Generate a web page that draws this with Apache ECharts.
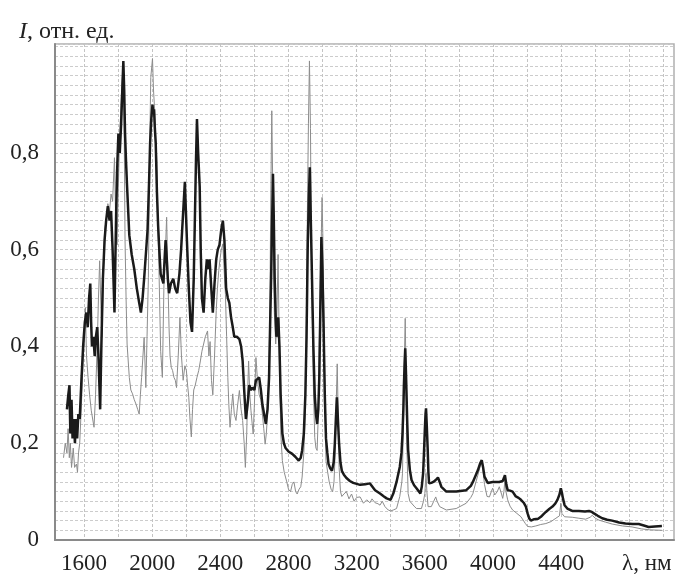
<!DOCTYPE html>
<html>
<head>
<meta charset="utf-8">
<script src="https://cdn.jsdelivr.net/npm/echarts@6/dist/echarts.min.js"></script>
<style>
  html, body { margin: 0; padding: 0; background: #fff; }
  #chart { width: 681px; height: 576px; }
</style>
</head>
<body>
<div id="chart"></div>
<script>
// подписи осей
const xLabelValues = [1600, 2000, 2400, 2800, 3200, 3600, 4000, 4400];
const xGridValues = [1600, 1800, 2000, 2200, 2400, 2600, 2800, 3000, 3200, 3400, 3600, 3800, 4000, 4200, 4400, 4600, 4800, 5000];
const yLabelValues = [0, 0.2, 0.4, 0.6, 0.8];

// жирная чёрная кривая
const blackX = [1500,1508,1515,1520,1527,1533,1540,1547,1553,1560,1567,1575,1585,1595,1605,1614,1622,1630,1637,1642,1647,1655,1663,1670,1678,1686,1695,1702,1711,1721,1730,1740,1750,1759,1768,1779,1789,1796,1802,1810,1818,1825,1831,1836,1841,1847,1853,1866,1880,1895,1910,1924,1934,1944,1953,1963,1973,1982,1988,1995,2002,2007,2011,2016,2021,2028,2035,2042,2050,2058,2066,2073,2079,2086,2092,2099,2110,2124,2135,2147,2160,2170,2176,2184,2192,2198,2205,2215,2225,2234,2244,2250,2257,2263,2270,2279,2285,2292,2302,2312,2321,2330,2337,2347,2356,2366,2376,2385,2395,2405,2415,2424,2434,2444,2453,2463,2473,2482,2497,2512,2522,2531,2540,2550,2560,2570,2580,2589,2600,2609,2620,2628,2638,2647,2657,2667,2677,2686,2692,2698,2704,2709,2714,2719,2724,2729,2735,2740,2747,2754,2764,2773,2783,2800,2822,2840,2860,2872,2880,2890,2899,2906,2913,2919,2925,2931,2938,2946,2954,2961,2968,2975,2981,2987,2993,2999,3006,3013,3020,3028,3035,3045,3055,3065,3072,3078,3084,3090,3097,3105,3113,3125,3140,3160,3180,3200,3220,3250,3278,3308,3337,3360,3376,3399,3415,3434,3453,3463,3469,3474,3477,3481,3485,3489,3492,3497,3502,3512,3522,3537,3551,3574,3582,3590,3595,3600,3604,3607,3611,3617,3621,3625,3638,3650,3664,3677,3687,3697,3726,3784,3843,3870,3882,3900,3911,3924,3934,3942,3950,3969,3998,4037,4057,4064,4070,4078,4086,4100,4115,4134,4150,4164,4180,4193,4203,4212,4222,4232,4242,4251,4265,4281,4295,4310,4330,4349,4365,4378,4390,4398,4404,4411,4420,4436,4465,4504,4540,4563,4580,4592,4615,4641,4670,4699,4740,4777,4820,4855,4885,4913,4950,4991];
const blackY = [0.27,0.30,0.32,0.22,0.29,0.21,0.25,0.20,0.25,0.21,0.26,0.25,0.33,0.40,0.45,0.47,0.44,0.50,0.53,0.45,0.40,0.42,0.38,0.42,0.44,0.37,0.27,0.40,0.54,0.62,0.66,0.69,0.66,0.68,0.60,0.47,0.68,0.78,0.84,0.80,0.86,0.93,0.99,0.93,0.84,0.78,0.73,0.63,0.59,0.56,0.52,0.49,0.47,0.50,0.54,0.59,0.64,0.74,0.82,0.87,0.90,0.88,0.89,0.85,0.82,0.72,0.65,0.60,0.55,0.54,0.53,0.58,0.62,0.58,0.54,0.51,0.53,0.54,0.52,0.51,0.55,0.60,0.64,0.69,0.74,0.68,0.61,0.52,0.45,0.43,0.54,0.65,0.78,0.87,0.80,0.73,0.60,0.50,0.47,0.54,0.58,0.56,0.58,0.52,0.47,0.53,0.58,0.60,0.61,0.64,0.66,0.62,0.52,0.50,0.49,0.46,0.44,0.42,0.42,0.415,0.40,0.37,0.31,0.25,0.28,0.32,0.31,0.315,0.31,0.33,0.33,0.336,0.31,0.28,0.26,0.24,0.27,0.336,0.44,0.54,0.66,0.757,0.66,0.54,0.47,0.42,0.44,0.46,0.40,0.30,0.22,0.20,0.19,0.183,0.178,0.172,0.164,0.17,0.185,0.22,0.30,0.42,0.61,0.70,0.77,0.66,0.54,0.40,0.30,0.26,0.24,0.27,0.34,0.48,0.626,0.56,0.44,0.30,0.21,0.18,0.157,0.148,0.143,0.16,0.20,0.25,0.295,0.25,0.198,0.16,0.143,0.135,0.128,0.122,0.118,0.116,0.114,0.115,0.117,0.103,0.096,0.09,0.086,0.083,0.096,0.12,0.151,0.18,0.22,0.27,0.317,0.36,0.396,0.35,0.31,0.24,0.186,0.145,0.124,0.113,0.107,0.096,0.11,0.138,0.18,0.227,0.26,0.272,0.24,0.186,0.14,0.117,0.118,0.12,0.124,0.129,0.12,0.11,0.10,0.10,0.103,0.112,0.12,0.135,0.144,0.158,0.165,0.15,0.131,0.118,0.12,0.12,0.122,0.128,0.134,0.115,0.103,0.102,0.10,0.09,0.087,0.083,0.077,0.069,0.055,0.045,0.04,0.038,0.043,0.045,0.044,0.048,0.053,0.058,0.064,0.069,0.075,0.083,0.094,0.107,0.098,0.085,0.072,0.065,0.06,0.06,0.059,0.06,0.058,0.055,0.05,0.045,0.042,0.04,0.036,0.034,0.033,0.033,0.03,0.027,0.028,0.029];

// тонкая серая кривая
const grayX = [1480,1490,1500,1507,1514,1520,1527,1537,1545,1556,1562,1568,1575,1585,1595,1602,1608,1615,1624,1633,1643,1651,1659,1668,1678,1685,1692,1698,1705,1712,1721,1730,1740,1750,1759,1768,1779,1786,1794,1801,1808,1815,1822,1831,1836,1841,1847,1853,1866,1875,1885,1895,1905,1915,1924,1931,1938,1946,1953,1963,1970,1978,1985,1992,2002,2008,2015,2021,2027,2034,2041,2050,2060,2070,2078,2085,2092,2099,2105,2112,2120,2128,2136,2143,2153,2163,2172,2182,2192,2201,2208,2215,2222,2230,2237,2244,2253,2263,2273,2283,2292,2302,2312,2325,2333,2340,2348,2356,2366,2376,2383,2391,2398,2405,2415,2422,2430,2437,2444,2450,2457,2465,2473,2482,2492,2502,2512,2522,2531,2540,2547,2555,2560,2566,2573,2580,2587,2593,2600,2609,2618,2628,2638,2647,2655,2663,2670,2677,2684,2690,2696,2702,2707,2711,2717,2725,2731,2739,2744,2748,2755,2764,2775,2790,2800,2812,2822,2832,2842,2851,2862,2872,2880,2890,2899,2905,2911,2917,2923,2929,2933,2938,2946,2954,2961,2968,2975,2981,2988,2997,3002,3008,3014,3020,3030,3039,3050,3059,3067,3074,3080,3086,3092,3097,3105,3113,3125,3140,3155,3170,3185,3200,3220,3240,3259,3278,3290,3308,3325,3337,3350,3366,3385,3399,3415,3434,3453,3465,3469,3474,3479,3485,3490,3494,3502,3512,3522,3537,3551,3580,3592,3600,3607,3612,3619,3638,3652,3664,3672,3687,3726,3784,3843,3870,3882,3900,3911,3924,3934,3942,3950,3965,3979,3990,3998,4010,4017,4025,4037,4050,4057,4064,4070,4076,4086,4100,4115,4140,4164,4190,4203,4212,4225,4251,4280,4310,4340,4369,4390,4398,4404,4420,4465,4504,4543,4570,4582,4600,4622,4660,4699,4760,4816,4870,4920,4991];
const grayY = [0.17,0.20,0.18,0.23,0.17,0.20,0.15,0.19,0.15,0.157,0.14,0.18,0.20,0.28,0.37,0.42,0.48,0.38,0.336,0.30,0.267,0.25,0.233,0.30,0.405,0.50,0.577,0.50,0.42,0.52,0.64,0.66,0.695,0.68,0.715,0.70,0.79,0.66,0.61,0.72,0.82,0.88,0.94,0.984,0.85,0.62,0.50,0.405,0.336,0.31,0.302,0.29,0.281,0.27,0.26,0.30,0.336,0.38,0.419,0.315,0.42,0.543,0.80,0.956,0.995,0.93,0.887,0.83,0.79,0.65,0.543,0.39,0.336,0.543,0.60,0.667,0.55,0.44,0.38,0.357,0.35,0.336,0.33,0.315,0.38,0.46,0.38,0.33,0.36,0.35,0.32,0.295,0.25,0.213,0.27,0.31,0.32,0.336,0.35,0.37,0.39,0.405,0.42,0.432,0.38,0.41,0.33,0.30,0.38,0.474,0.52,0.557,0.58,0.598,0.612,0.56,0.508,0.42,0.336,0.28,0.233,0.27,0.302,0.26,0.247,0.28,0.309,0.27,0.247,0.20,0.15,0.22,0.30,0.37,0.30,0.267,0.24,0.219,0.28,0.377,0.33,0.30,0.29,0.26,0.23,0.198,0.22,0.26,0.33,0.45,0.70,0.887,0.75,0.60,0.47,0.405,0.45,0.59,0.45,0.34,0.22,0.164,0.14,0.12,0.105,0.10,0.115,0.12,0.10,0.095,0.105,0.11,0.13,0.18,0.267,0.45,0.68,0.86,0.99,0.85,0.65,0.50,0.32,0.212,0.19,0.185,0.26,0.405,0.55,0.708,0.62,0.45,0.28,0.164,0.14,0.12,0.105,0.10,0.12,0.18,0.28,0.364,0.25,0.15,0.10,0.09,0.095,0.10,0.085,0.095,0.08,0.088,0.089,0.076,0.083,0.077,0.085,0.077,0.075,0.072,0.08,0.069,0.062,0.06,0.062,0.065,0.09,0.12,0.138,0.25,0.358,0.458,0.33,0.20,0.096,0.08,0.076,0.07,0.065,0.065,0.08,0.096,0.138,0.10,0.069,0.069,0.08,0.089,0.08,0.069,0.062,0.065,0.076,0.088,0.096,0.12,0.134,0.151,0.165,0.14,0.115,0.09,0.089,0.10,0.107,0.093,0.089,0.10,0.11,0.095,0.086,0.10,0.124,0.10,0.083,0.07,0.062,0.055,0.048,0.034,0.028,0.025,0.027,0.029,0.032,0.034,0.038,0.045,0.05,0.076,0.055,0.048,0.047,0.045,0.043,0.047,0.051,0.045,0.041,0.037,0.033,0.029,0.027,0.023,0.021,0.02];

const serif = "Liberation Serif";

const option = {
  backgroundColor: "#fff",
  animation: false,
  title: {
    text: "{i|I}, отн. ед.",
    left: 14,
    top: 15,
    textStyle: {
      fontFamily: serif,
      fontSize: 24,
      fontWeight: "normal",
      color: "#222",
      rich: {
        i: { fontFamily: serif, fontSize: 24, fontStyle: "italic", color: "#222" }
      }
    }
  },
  graphic: [
    {
      type: "text",
      left: 622,
      top: 552,
      style: { text: "λ, нм", font: "23px 'Liberation Serif'", fill: "#222" }
    }
  ],
  grid: {
    left: 55,
    top: 44,
    right: 7,
    bottom: 36,
    show: true,
    borderColor: "#b0b0b0",
    borderWidth: 1.5
  },
  xAxis: {
    type: "value",
    min: 1430,
    max: 5062,
    axisLine: { show: true, lineStyle: { color: "#8a8a8a", width: 2 } },
    axisTick: { show: false, customValues: xGridValues },
    axisLabel: {
      customValues: xLabelValues,
      margin: 12,
      fontFamily: serif,
      fontSize: 23,
      color: "#222",
      formatter: (v) => String(v)
    },
    splitLine: {
      show: true,
      lineStyle: { color: "#c4c4c4", type: [3, 2], width: 1 }
    }
  },
  yAxis: {
    type: "value",
    min: 0,
    max: 1.025,
    interval: 0.02,
    axisLine: { show: true, lineStyle: { color: "#8a8a8a", width: 2 } },
    axisTick: { show: false },
    axisLabel: {
      customValues: yLabelValues,
      margin: 16,
      fontFamily: serif,
      fontSize: 23,
      color: "#222",
      formatter: (v) => String(+v.toFixed(1)).replace(".", ",")
    },
    splitLine: {
      show: true,
      lineStyle: { color: "#cccccc", type: [3, 2], width: 1 }
    }
  },
  series: [
    {
      name: "gray",
      type: "line",
      showSymbol: false,
      lineStyle: { color: "#8c8c8c", width: 1 },
      data: grayX.map((x, i) => [x, grayY[i]])
    },
    {
      name: "black",
      type: "line",
      showSymbol: false,
      lineStyle: { color: "#1a1a1a", width: 2.5 },
      data: blackX.map((x, i) => [x, blackY[i]])
    }
  ]
};

const myChart = echarts.init(document.getElementById("chart"));
myChart.setOption(option);
</script>
</body>
</html>
